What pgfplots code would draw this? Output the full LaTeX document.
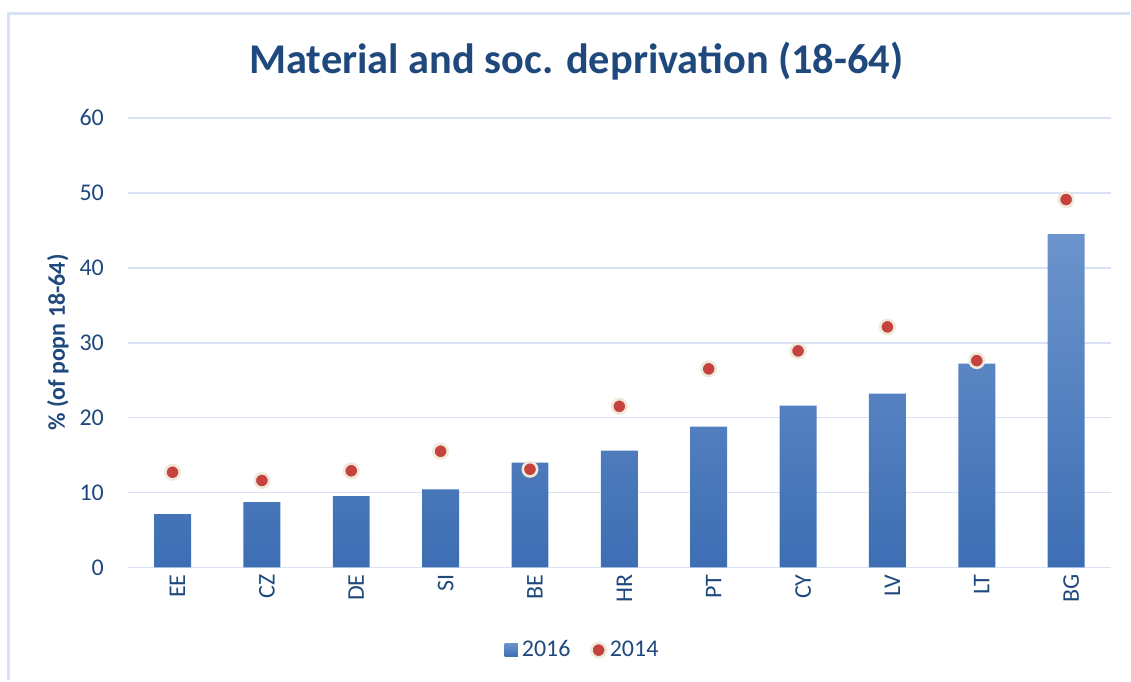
\documentclass[border=0pt]{standalone}
\usepackage{fontspec}
\setmainfont{Carlito}
\usepackage{pgfplots}
\pgfplotsset{compat=1.18}
\definecolor{txtblue}{HTML}{1F497D}
\definecolor{gridblue}{HTML}{D9E2F3}
\definecolor{framecol}{HTML}{D6E1F1}
\definecolor{barTop}{HTML}{6C94CC}
\definecolor{barBot}{HTML}{3D6EB4}
\definecolor{barMid}{HTML}{4F7FC0}
\definecolor{dotRed}{HTML}{C5423E}
\definecolor{dotEdge}{HTML}{EFE9DA}

\begin{document}
\begin{tikzpicture}
% page size and frame (1px = 0.5pt)
\path (0,0) rectangle (565.5pt,-340.5pt);
\draw[framecol, line width=1.2pt] (4.3pt,-340.5pt) -- (4.3pt,-6.8pt) -- (565.5pt,-6.8pt);

\node[anchor=base, font=\fontsize{21.2}{25}\selectfont\bfseries, text=txtblue]
  at (288.5pt,-37pt) {Material and soc. deprivation (18-64)};

\begin{axis}[
    at={(64pt,-284pt)}, anchor=south west,
    scale only axis,
    width=492pt, height=225pt,
    xmin=-0.5, xmax=10.5,
    ymin=0, ymax=60,
    ytick={0,10,...,60},
    xtick={0,...,10},
    xticklabels={EE,CZ,DE,SI,BE,HR,PT,CY,LV,LT,BG},
    axis line style={draw=none},
    major tick length=0pt,
    ymajorgrids,
    grid style={gridblue, line width=0.9pt},
    tick label style={font=\fontsize{12}{14}\selectfont, text=txtblue},
    /pgf/number format/assume math mode=true,
    x tick label style={rotate=90, anchor=east, yshift=-2.5pt},
    y tick label style={anchor=east, xshift=-8.5pt},
    ylabel={\% (of popn 18-64)},
    ylabel style={font=\fontsize{12}{14}\selectfont\bfseries, text=txtblue,
        at={(axis description cs:-0.0711,0.5)}, anchor=center},
    legend columns=2,
    legend style={draw=none, fill=none, at={(axis description cs:0.4636,-0.184)},
        anchor=center, font=\fontsize{12}{14}\selectfont, text=txtblue,
        /tikz/every even column/.append style={column sep=8.5pt}},
]
\addplot[ybar, bar width=18.5pt, bar shift=0pt, draw=none,
    top color=barTop, bottom color=barBot,
    legend image code/.code={\fill[barMid] (0pt,-3.3pt) rectangle (6.6pt,3.3pt);}]
  coordinates {(0,7.1) (1,8.7) (2,9.5) (3,10.4) (4,14.0) (5,15.6)
               (6,18.8) (7,21.6) (8,23.2) (9,27.2) (10,44.5)};
\addlegendentry{2016}
\addplot[only marks, mark=*, mark size=3.6pt,
    mark options={fill=dotRed, draw=dotEdge, line width=1.3pt}]
  coordinates {(0,12.7) (1,11.6) (2,12.9) (3,15.5) (4,13.1) (5,21.5)
               (6,26.5) (7,28.9) (8,32.1) (9,27.6) (10,49.1)};
\addlegendentry{2014}
\end{axis}
\end{tikzpicture}
\end{document}
